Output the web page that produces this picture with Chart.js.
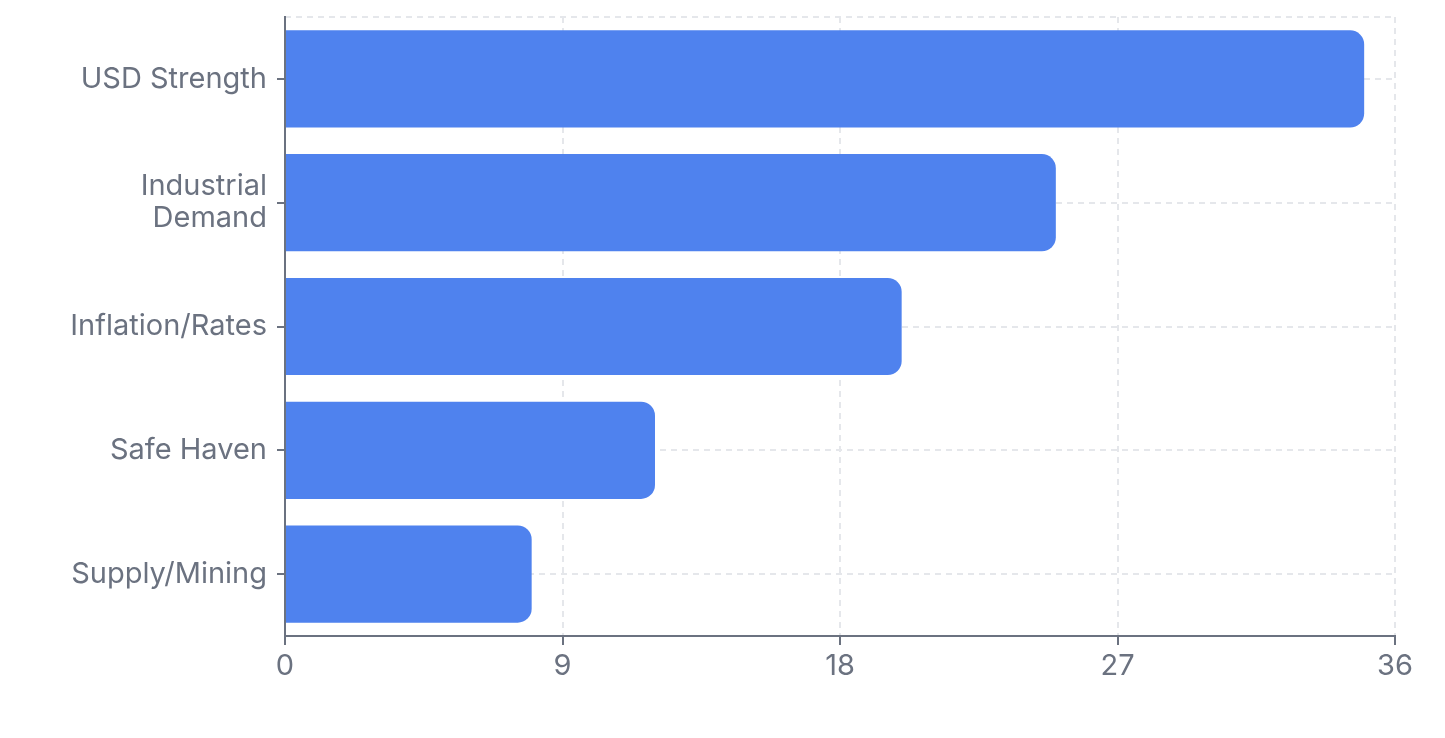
<!DOCTYPE html>
<html>
<head>
<meta charset="utf-8">
<script src="https://cdn.jsdelivr.net/npm/chart.js@4.4.0/dist/chart.umd.min.js"></script>
<style>
  html, body { margin: 0; padding: 0; background: #fff; }
  #wrap { width: 1445px; height: 738px; }
</style>
</head>
<body>
<div id="wrap"><canvas id="chart"></canvas></div>
<script>
// Drivers and their weights
const categories = ['USD Strength', ['Industrial', 'Demand'], 'Inflation/Rates', 'Safe Haven', 'Supply/Mining'];
const weights = [35, 25, 20, 12, 8];
const xTicks = [0, 9, 18, 27, 36];

const axisColor = '#6b7280';
const gridColor = '#e5e7eb';
const barColor = '#4f82ee';

const ctx = document.getElementById('chart').getContext('2d');

new Chart(ctx, {
    type: 'bar',
    data: {
        labels: categories,
        datasets: [{
            label: 'Weight',
            data: weights,
            backgroundColor: barColor,
            borderWidth: 0,
            borderRadius: 14,
            borderSkipped: 'start',
            barPercentage: 0.785,
            categoryPercentage: 1
        }]
    },
    options: {
        indexAxis: 'y',
        responsive: true,
        maintainAspectRatio: false,
        animation: false,
        devicePixelRatio: 1,
        layout: {
            padding: { top: 17, right: 50, bottom: 0, left: 0 }
        },
        plugins: {
            legend: { display: false },
            tooltip: { enabled: false }
        },
        scales: {
            x: {
                type: 'linear',
                min: 0,
                max: 36,
                afterBuildTicks: function(scale) {
                    scale.ticks = xTicks.map(v => ({ value: v }));
                },
                afterFit: function(scale) {
                    scale.height = 102;
                },
                grid: {
                    color: gridColor,
                    lineWidth: 2,
                    tickColor: axisColor,
                    tickWidth: 2,
                    tickLength: 9,
                    tickBorderDash: []
                },
                border: {
                    display: true,
                    color: axisColor,
                    width: 2,
                    dash: [6, 5]
                },
                ticks: {
                    color: axisColor,
                    padding: 4,
                    font: { family: 'Inter', size: 29 }
                }
            },
            y: {
                type: 'category',
                afterFit: function(scale) {
                    scale.width = 285;
                    scale.paddingTop = 0;
                    scale.paddingBottom = 0;
                },
                grid: {
                    offset: false,
                    color: gridColor,
                    lineWidth: 2,
                    tickColor: axisColor,
                    tickWidth: 2,
                    tickLength: 8,
                    tickBorderDash: []
                },
                border: {
                    display: true,
                    color: axisColor,
                    width: 2,
                    dash: [6, 5]
                },
                ticks: {
                    color: axisColor,
                    padding: 10,
                    font: { family: 'Inter', size: 29, lineHeight: 1.1 }
                }
            },
            // only used to draw the dashed line along the top of the plot area
            yTop: {
                type: 'linear',
                axis: 'y',
                position: 'right',
                offset: false,
                min: 0,
                max: 1,
                afterBuildTicks: function(scale) {
                    scale.ticks = [{ value: 1 }];
                },
                afterFit: function(scale) {
                    scale.width = 0;
                    scale.paddingTop = 0;
                    scale.paddingBottom = 0;
                },
                ticks: { display: false },
                grid: {
                    offset: false,
                    drawTicks: false,
                    lineWidth: 2,
                    color: gridColor
                },
                border: {
                    display: false,
                    dash: [6, 5]
                }
            }
        }
    }
});
</script>
</body>
</html>
